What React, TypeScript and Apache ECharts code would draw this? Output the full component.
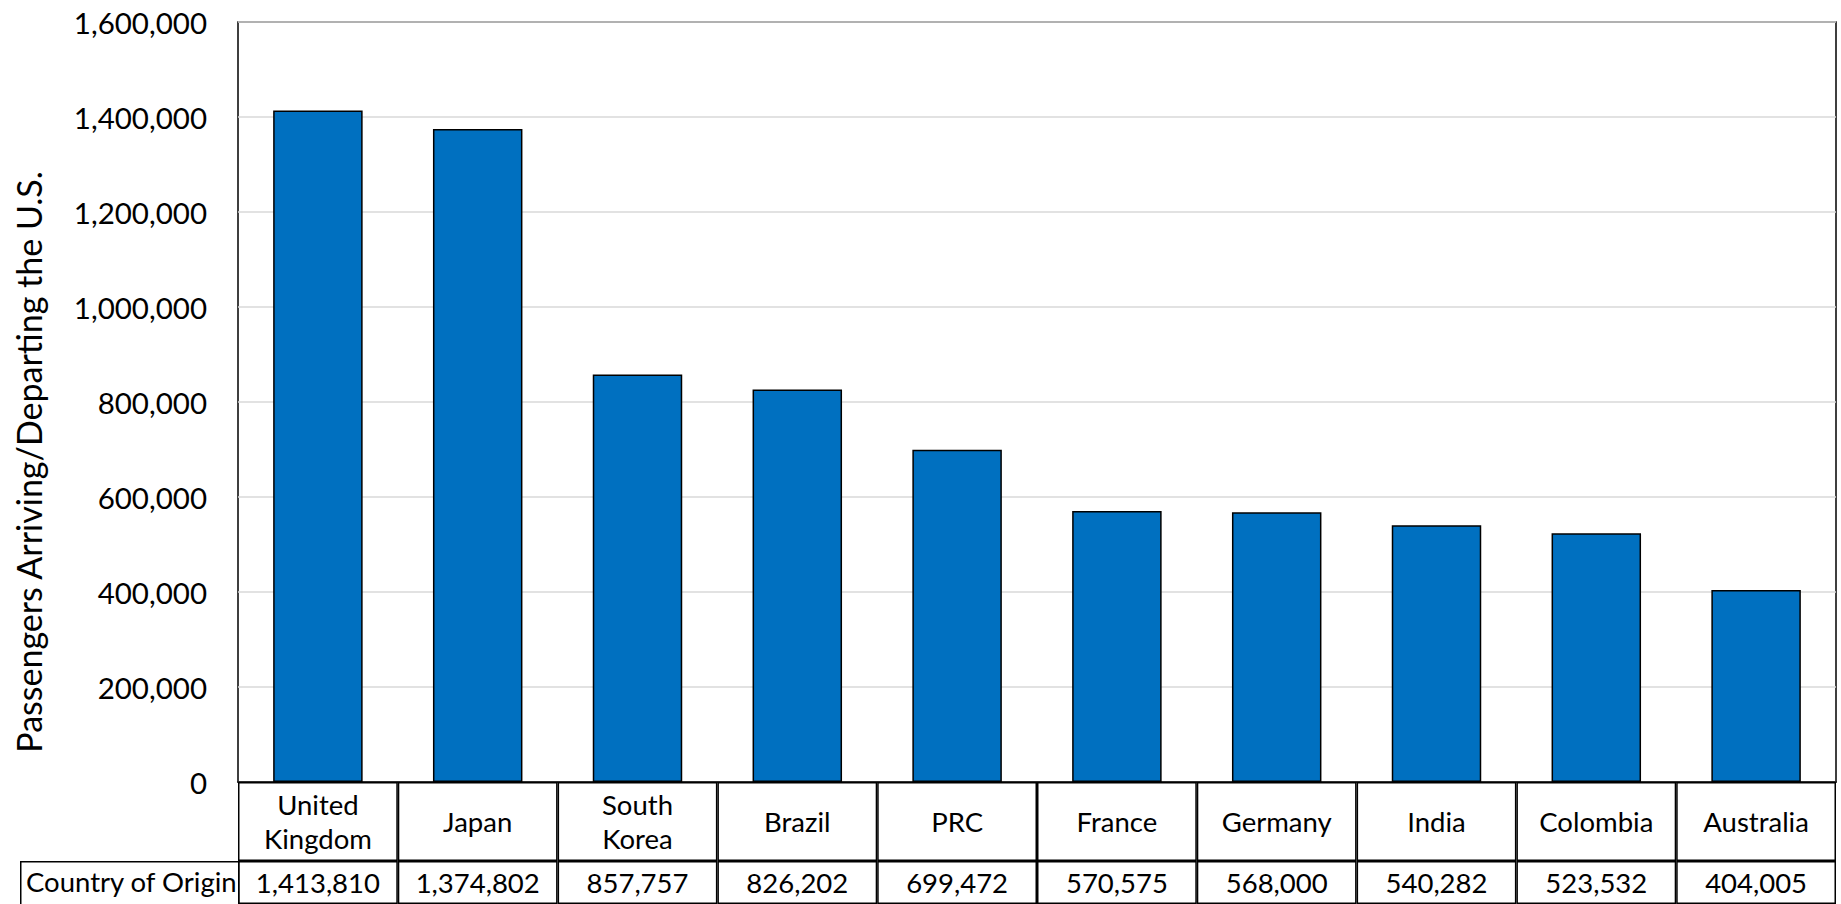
import React, { useEffect, useRef } from "react";
import * as echarts from "echarts";

const categories = [
  "United Kingdom",
  "Japan",
  "South Korea",
  "Brazil",
  "PRC",
  "France",
  "Germany",
  "India",
  "Colombia",
  "Australia",
];
const passengers = [1413810, 1374802, 857757, 826202, 699472, 570575, 568000, 540282, 523532, 404005];
const yTicks = { min: 0, max: 1600000, interval: 200000 };
const yTitle = "Passengers Arriving/Departing the U.S.";
const rowHeader = "Country of Origin";

const FONT = "Lato";
const fmt = (v: number) => v.toLocaleString("en-US");

export default function App() {
  const ref = useRef<HTMLDivElement>(null);
  useEffect(() => {
    if (!ref.current) return;
    const chart = echarts.init(ref.current, undefined, { renderer: "svg" });
    const cellStyle = { color: "#ffffff", borderColor: "#000000", borderWidth: 1.5 };
    const ones = categories.map(() => 1);
    chart.setOption({
      animation: false,
      backgroundColor: "#ffffff",
      textStyle: { fontFamily: FONT },
      grid: [
        { left: 238, right: 5, top: 22, height: 760, show: true, borderColor: "#000000", borderWidth: 1.5, containLabel: false },
        { left: 238, right: 5, top: 782, height: 79, containLabel: false },
        { left: 238, right: 5, top: 861, height: 46, containLabel: false },
      ],
      xAxis: [
        {
          type: "category",
          gridIndex: 0,
          data: categories,
          axisLine: { show: true, lineStyle: { color: "#000000", width: 1.5 } },
          axisTick: { show: false },
          axisLabel: { show: false },
        },
        { type: "category", gridIndex: 1, data: categories, show: false },
        { type: "category", gridIndex: 2, data: categories, show: false },
      ],
      yAxis: [
        {
          type: "value",
          gridIndex: 0,
          min: yTicks.min,
          max: yTicks.max,
          interval: yTicks.interval,
          axisLine: { show: false },
          axisTick: { show: false },
          splitLine: { show: true, lineStyle: { color: "#d9d9d9", width: 1.5 } },
          axisLabel: { formatter: (v: number) => fmt(v), fontSize: 29.5, color: "#000000", margin: 31, fontFamily: FONT },
          name: yTitle,
          nameLocation: "middle",
          nameGap: 193,
          nameTextStyle: { fontSize: 34, color: "#000000", fontFamily: FONT, padding: [0, 120, 0, 0] },
        },
        { type: "value", gridIndex: 1, min: 0, max: 1, show: false },
        { type: "value", gridIndex: 2, min: 0, max: 1, show: false },
      ],
      graphic: [
        {
          type: "rect",
          left: 20,
          top: 861,
          shape: { width: 218, height: 46 },
          style: { fill: "#ffffff", stroke: "#000000", lineWidth: 1.5 },
          z: 10,
        },
        {
          type: "text",
          left: 26,
          top: 867,
          style: { text: rowHeader, fontSize: 27.5, fill: "#000000", fontFamily: FONT },
          z: 11,
        },
      ],
      series: [
        {
          type: "bar",
          xAxisIndex: 0,
          yAxisIndex: 0,
          data: passengers,
          barCategoryGap: "44%",
          itemStyle: { color: "#0070C0", borderColor: "#000000", borderWidth: 1.5 },
        },
        {
          type: "bar",
          xAxisIndex: 1,
          yAxisIndex: 1,
          data: ones,
          barCategoryGap: "0%",
          itemStyle: cellStyle,
          silent: true,
          label: {
            show: true,
            position: "inside",
            formatter: (p: any) => categories[p.dataIndex].replace(" ", "\n"),
            fontSize: 27.5,
            lineHeight: 34,
            color: "#000000",
            fontFamily: FONT,
          },
        },
        {
          type: "bar",
          xAxisIndex: 2,
          yAxisIndex: 2,
          data: ones,
          barCategoryGap: "0%",
          itemStyle: cellStyle,
          silent: true,
          label: {
            show: true,
            position: "inside",
            formatter: (p: any) => fmt(passengers[p.dataIndex]),
            fontSize: 27.5,
            color: "#000000",
            fontFamily: FONT,
          },
        },
      ],
    });
    return () => chart.dispose();
  }, []);
  return (
    <div
      ref={ref}
      style={{ position: "absolute", left: 0, top: 0, width: 1841, height: 904 }}
    />
  );
}
